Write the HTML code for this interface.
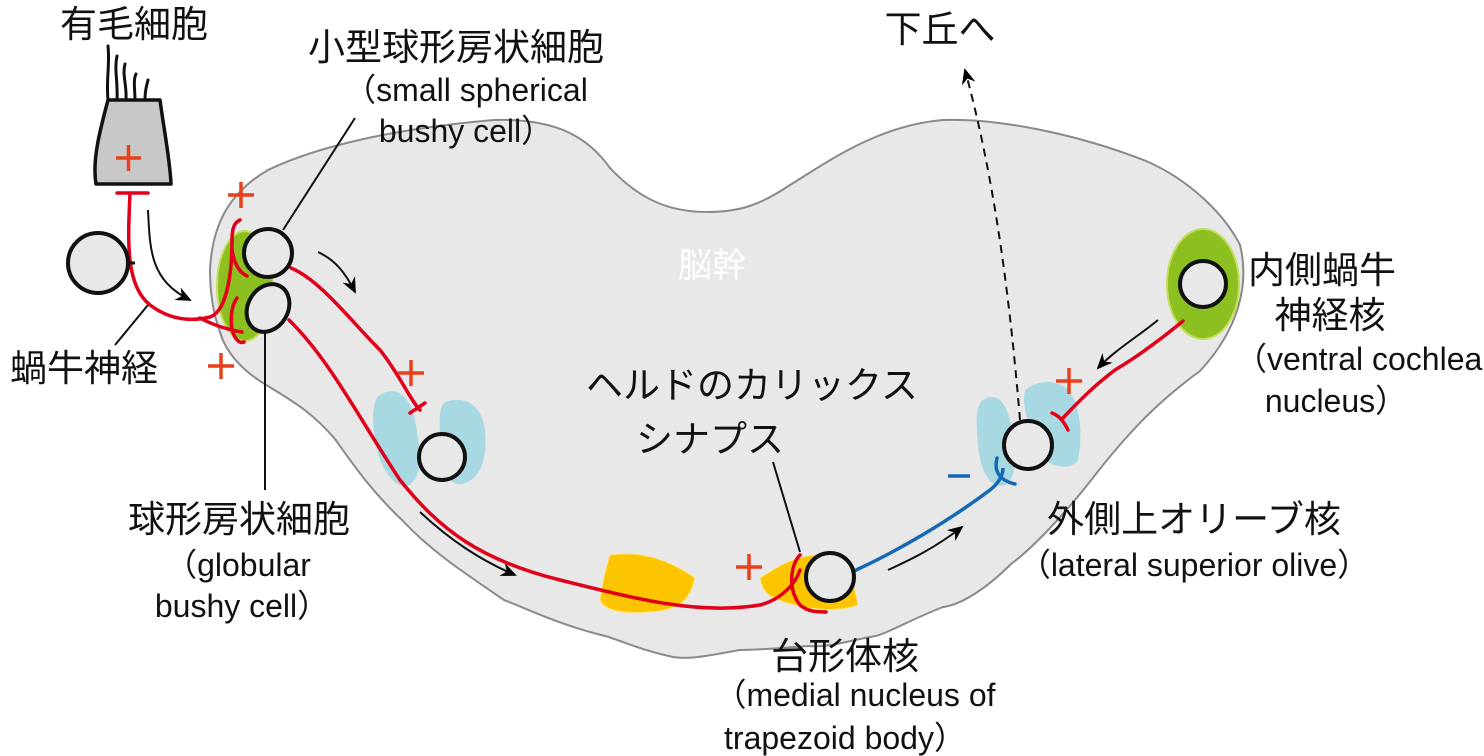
<!DOCTYPE html>
<html><head><meta charset="utf-8"><style>
html,body{margin:0;padding:0;background:#fff;}
svg{display:block;}
text{font-family:"Liberation Sans","Noto Sans CJK JP",sans-serif;fill:#111;}
.j{font-size:37px;}
.e{font-size:32px;}
</style></head><body>
<svg width="1484" height="756" viewBox="0 0 1484 756" xmlns="http://www.w3.org/2000/svg">
<defs>
<marker id="ah2" markerWidth="18" markerHeight="18" refX="14" refY="9" orient="auto" markerUnits="userSpaceOnUse" viewBox="0 0 18 18"><path d="M0,2 L16,9 L0,16 L5,9 Z" fill="#000"/></marker>
</defs>
<!-- brainstem -->
<path d="M210,270 C212,230 225,195 268,170 C320,145 400,128 494,120 C560,118 590,140 610,168 C640,200 670,212 707,212 C740,212 760,205 790,185 C830,160 880,125 943,120 C1000,118 1080,135 1146,161 C1190,180 1225,215 1240,245 C1250,285 1238,330 1200,371 C1160,400 1130,430 1092,479 C1060,520 1030,550 1011,564 C985,590 960,605 943,607 C910,620 890,632 876,636 C850,640 830,648 808,646 C780,648 760,650 740,650 C710,655 690,660 673,657 C640,650 620,640 605,636 C560,625 530,610 504,600 C460,570 430,550 403,521 C370,490 350,460 335,439 C310,410 290,400 268,386 C240,370 225,350 220,332 C212,310 210,290 210,270 Z" fill="#e8e8e8" stroke="#8a8a8a" stroke-width="2"/>
<text x="712" y="277" font-size="34" style="fill:#fff" text-anchor="middle">脳幹</text>
<!-- nuclei -->
<ellipse cx="245" cy="286" rx="28" ry="55" fill="#8cc021" stroke="#c3de5b" stroke-width="2"/>
<ellipse cx="1203" cy="284" rx="36" ry="55" fill="#8cc021" stroke="#c3de5b" stroke-width="2"/>
<path d="M380,395 C395,385 410,395 415,420 C420,450 425,470 410,485 C395,490 380,470 375,440 C372,420 372,400 380,395 Z" fill="#a8d8e2"/>
<path d="M445,402 C465,395 482,405 485,430 C488,460 480,480 462,484 C445,486 440,460 440,440 C440,420 438,408 445,402 Z" fill="#a8d8e2"/>
<path d="M983,400 C995,392 1005,400 1010,420 C1015,450 1020,475 1005,485 C990,490 980,470 978,445 C976,425 975,405 983,400 Z" fill="#a8d8e2"/>
<path d="M1025,390 C1040,378 1060,380 1070,392 C1082,410 1082,440 1078,460 C1072,470 1055,468 1045,460 C1035,440 1020,410 1025,390 Z" fill="#a8d8e2"/>
<path d="M610,555 C640,550 670,560 695,578 C690,600 680,610 650,612 C625,614 605,612 600,600 C602,585 605,570 610,555 Z" fill="#fcc500" stroke="#ffe680" stroke-width="1"/>
<path d="M760,578 C780,565 800,552 830,555 C850,560 855,590 858,605 C840,612 815,610 795,605 C775,600 762,595 760,578 Z" fill="#fcc500" stroke="#ffe680" stroke-width="1"/>
<!-- hair cell -->
<g fill="none" stroke="#111" stroke-width="3" stroke-linecap="round">
<path d="M108,100 C106,80 110,65 108,46"/>
<path d="M117,100 C118,80 114,70 117,56"/>
<path d="M126,100 C127,85 122,75 125,64"/>
<path d="M135,100 C135,90 133,80 136,74"/>
<path d="M145,100 C145,92 146,88 148,80"/>
</g>
<path d="M108,100 L160,100 C164,130 170,160 171,184 L96,184 C92,160 100,130 108,100 Z" fill="#c8c8c8" stroke="#111" stroke-width="3.5" stroke-linejoin="round"/>
<!-- red axons -->
<g fill="none" stroke="#e0001a" stroke-width="3.5" stroke-linecap="round">
<path d="M117,193 L148,193"/>
<path d="M130,193 C128,240 125,285 150,305 C170,320 190,322 210,317 C225,312 232,280 232,240"/>
<path d="M232,240 C232,225 236,222 240,220"/>
<path d="M232,250 C234,262 238,272 247,276"/>
<path d="M200,318 C215,326 230,330 242,332"/>
<path d="M237,298 C232,305 230,315 232,330 C235,340 240,344 244,342"/>
<path d="M291,268 C320,280 350,320 380,350 C400,375 410,400 420,410"/>
<path d="M410,413 L425,403"/>
<path d="M289,320 C330,360 360,420 400,480 C440,530 480,560 560,580 C640,600 700,615 760,605 C780,600 795,585 800,570"/>
<path d="M800,555 C790,565 788,590 800,605 C808,612 818,612 826,612"/>
<path d="M1183,321 C1160,340 1140,355 1115,370 C1095,385 1080,400 1063,418"/>
<path d="M1052,413 C1060,416 1064,422 1068,430"/>
</g>
<path d="M852,572 C900,550 950,520 990,490 C1000,482 1003,475 1003,468" fill="none" stroke="#1469b4" stroke-width="3.5"/>
<path d="M997,458 C994,470 998,480 1015,484" fill="none" stroke="#1469b4" stroke-width="3.5" stroke-linecap="round"/>
<!-- cells -->
<g fill="#e8e8e8" stroke="#111" stroke-width="4">
<circle cx="98" cy="263" r="30"/>
<circle cx="268" cy="253" r="24"/>
<ellipse cx="268" cy="308" rx="20" ry="25" transform="rotate(30 268 308)"/>
<circle cx="442" cy="457" r="23"/>
<circle cx="830" cy="577" r="24"/>
<circle cx="1028" cy="445" r="24"/>
<circle cx="1203" cy="284" r="23"/>
</g>
<line x1="128" y1="263" x2="135" y2="263" stroke="#111" stroke-width="3"/>
<!-- leader lines -->
<g stroke="#111" stroke-width="2" fill="none">
<line x1="355" y1="118" x2="283" y2="230"/>
<line x1="265" y1="333" x2="265" y2="490"/>
<line x1="148" y1="305" x2="115" y2="345"/>
<line x1="773" y1="462" x2="800" y2="552"/>
</g>
<path d="M1020,420 C1010,300 995,180 965,70" stroke="#111" stroke-width="2" stroke-dasharray="8,6" fill="none" marker-end="url(#ah2)"/>
<!-- flow arrows -->
<g stroke="#111" stroke-width="2" fill="none">
<path d="M148,210 C150,250 150,280 190,300" marker-end="url(#ah2)"/>
<path d="M318,252 C335,260 345,272 355,292" marker-end="url(#ah2)"/>
<path d="M420,512 C450,540 480,560 515,575" marker-end="url(#ah2)"/>
<path d="M888,570 C910,560 935,548 962,527" marker-end="url(#ah2)"/>
<path d="M1158,320 C1140,335 1115,350 1098,368" marker-end="url(#ah2)"/>
</g>
<!-- plus signs -->
<g stroke="#e8401c" stroke-width="3.5" fill="none">
<path d="M116,158 h25 M128.5,145 v26"/>
<path d="M228,195 h26 M241,182 v26"/>
<path d="M208,366 h26 M221,353 v26"/>
<path d="M398,373 h26 M411,360 v26"/>
<path d="M736,567 h26 M749,554 v26"/>
<path d="M1056,381 h26 M1069,368 v26"/>
</g>
<line x1="948" y1="476" x2="970" y2="476" stroke="#1469b4" stroke-width="3.5"/>
<!-- labels -->
<g class="j">
<text x="134" y="37" text-anchor="middle">有毛細胞</text>
<text x="456" y="60" text-anchor="middle">小型球形房状細胞</text>
<text x="940" y="42" text-anchor="middle">下丘へ</text>
<text x="1322" y="283" text-anchor="middle">内側蝸牛</text>
<text x="1330" y="328" text-anchor="middle">神経核</text>
<text x="84" y="381" text-anchor="middle">蝸牛神経</text>
<text x="752" y="398" text-anchor="middle">ヘルドのカリックス</text>
<text x="710" y="452" text-anchor="middle">シナプス</text>
<text x="1194" y="532" text-anchor="middle">外側上オリーブ核</text>
<text x="239" y="532" text-anchor="middle">球形房状細胞</text>
<text x="845" y="669" text-anchor="middle">台形体核</text>
</g>
<g class="e">
<text x="466" y="101" text-anchor="middle">（small spherical</text>
<text x="466" y="142" text-anchor="middle">bushy cell）</text>
<text x="1364" y="370" text-anchor="middle">（ventral cochlear</text>
<text x="1336" y="412" text-anchor="middle">nucleus）</text>
<text x="1194" y="576" text-anchor="middle">（lateral superior olive）</text>
<text x="238" y="576" text-anchor="middle">（globular</text>
<text x="242" y="617" text-anchor="middle">bushy cell）</text>
<text x="855" y="706" text-anchor="middle">（medial nucleus of</text>
<text x="845" y="749" text-anchor="middle">trapezoid body）</text>
</g>
</svg>
</body></html>
